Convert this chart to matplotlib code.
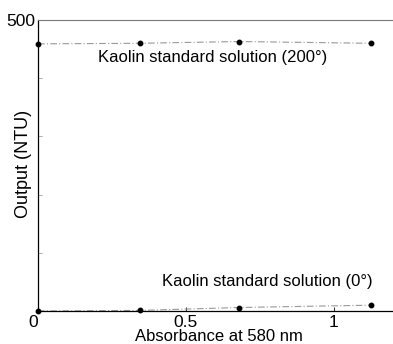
import matplotlib
matplotlib.use("Agg")
import matplotlib.pyplot as plt
from matplotlib.ticker import MultipleLocator

plt.rcParams['font.family'] = ['Liberation Sans', 'DejaVu Sans']

absorbance = [0.0, 0.345, 0.68, 1.125]
output_200 = [459, 460, 463, 460]
output_0 = [0, 1, 6, 10]
xticks = [0, 0.5, 1]
xticklabels = ["0", "0.5", "1"]
yticks = [500]
yticklabels = ["500"]

fig = plt.figure(figsize=(3.93, 3.44), dpi=100)
ax = fig.add_axes([38/393, 33/344, 355/393, 291/344])

for ys in (output_200, output_0):
    ax.plot(absorbance, ys, color='#999999', lw=0.8, ls=(0, (6, 2, 1, 2)), zorder=2)
    ax.plot(absorbance, ys, 'o', color='black', ms=3.2, zorder=3, clip_on=False)

ax.set_xlim(0, 1.2)
ax.set_ylim(0, 500)
ax.set_xticks(xticks)
ax.set_xticklabels(xticklabels)
ax.set_yticks(yticks)
ax.set_yticklabels(yticklabels)
ax.yaxis.set_minor_locator(MultipleLocator(100))
ax.tick_params(axis='both', which='major', direction='in', length=3, width=0.6, labelsize=12.5, pad=2)
ax.tick_params(axis='x', which='major', pad=3)
ax.tick_params(axis='y', which='minor', direction='in', length=3, width=0.5, color='#888888')
ax.spines['right'].set_visible(False)
ax.spines['top'].set_color('#777777')
ax.spines['top'].set_linewidth(0.8)
ax.spines['left'].set_linewidth(0.9)
ax.spines['bottom'].set_linewidth(0.9)
for lab in ax.get_xticklabels():
    if lab.get_text() == "0":
        lab.set_horizontalalignment('right')

ax.text(0.203, 435, "Kaolin standard solution (200°)", fontsize=12, ha='left', va='center')
ax.text(0.419, 50, "Kaolin standard solution (0°)", fontsize=12, ha='left', va='center')

ax.set_xlabel("Absorbance at 580 nm", fontsize=12)
ax.xaxis.set_label_coords(0.51, -0.062)
ax.set_ylabel("Output (NTU)", fontsize=13)
ax.yaxis.set_label_coords(-0.016, 0.505)

fig.savefig("out.png", dpi=100)
